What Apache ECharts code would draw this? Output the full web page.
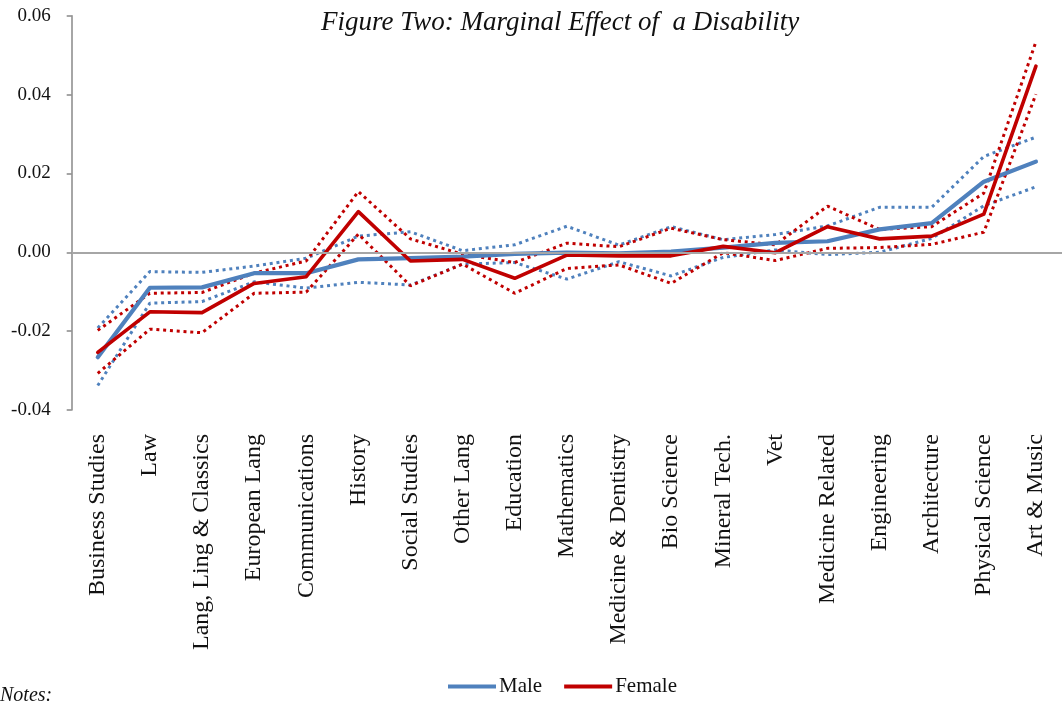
<!DOCTYPE html>
<html>
<head>
<meta charset="utf-8">
<script src="https://cdn.jsdelivr.net/npm/echarts@6/dist/echarts.min.js"></script>
<style>
  html, body { margin: 0; padding: 0; background: #fff; }
  #chart { width: 1062px; height: 701px; }
</style>
</head>
<body>
<div id="chart"></div>
<script>
var categories = ['Business Studies', 'Law', 'Lang, Ling & Classics', 'European Lang', 'Communications',
  'History', 'Social Studies', 'Other Lang', 'Education', 'Mathematics', 'Medicine & Dentistry',
  'Bio Science', 'Mineral Tech.', 'Vet', 'Medicine Related', 'Engineering', 'Architecture',
  'Physical Science', 'Art & Music']

var male = [-0.0266, -0.0090, -0.0089, -0.0053, -0.0053, -0.0018, -0.0015, -0.0011, -0.0004, -0.0001,
  -0.0003, 0.0002, 0.0012, 0.0024, 0.0028, 0.0058, 0.0074, 0.0179, 0.0230]
var maleUpper = [-0.0192, -0.0049, -0.0051, -0.0035, -0.0015, 0.0041, 0.0052, 0.0004, 0.0019, 0.0066,
  0.0018, 0.0065, 0.0032, 0.0045, 0.0067, 0.0114, 0.0114, 0.0243, 0.0292]
var maleLower = [-0.0338, -0.0129, -0.0125, -0.0075, -0.0091, -0.0076, -0.0083, -0.0030, -0.0026, -0.0068,
  -0.0024, -0.0060, -0.0013, 0.0006, -0.0006, 0.0000, 0.0035, 0.0118, 0.0166]

var female = [-0.0254, -0.0151, -0.0153, -0.0079, -0.0062, 0.0103, -0.0022, -0.0018, -0.0066, -0.0007,
  -0.0009, -0.0009, 0.0015, -0.0001, 0.0065, 0.0034, 0.0041, 0.0097, 0.0472]
var femaleUpper = [-0.0198, -0.0104, -0.0102, -0.0053, -0.0022, 0.0154, 0.0034, -0.0005, -0.0026, 0.0023,
  0.0014, 0.0061, 0.0032, 0.0019, 0.0117, 0.0058, 0.0065, 0.0150, 0.0534]
var femaleLower = [-0.0307, -0.0195, -0.0204, -0.0104, -0.0101, 0.0046, -0.0085, -0.0030, -0.0104, -0.0041,
  -0.0032, -0.0079, -0.0001, -0.0021, 0.0010, 0.0012, 0.0020, 0.0051, 0.0401]

var BLUE = '#4F81BD'
var RED = '#C00000'
var FONT = '"Liberation Serif", "DejaVu Serif", serif'

function solid(name, data, color, width) {
  return {
    name: name, type: 'line', data: data, symbol: 'none', z: 3,
    lineStyle: { color: color, width: width, type: 'solid', cap: 'round', join: 'round' },
    itemStyle: { color: color }
  }
}
function dotted(name, data, color) {
  return {
    name: name, type: 'line', data: data, symbol: 'none', z: 2,
    lineStyle: { color: color, width: 3, type: [3, 3.8], cap: 'butt' },
    itemStyle: { color: color }
  }
}

var chart = echarts.init(document.getElementById('chart'))

var zeroSeries = dotted('Male upper', maleUpper, BLUE)
zeroSeries.markLine = {
  silent: true,
  symbol: ['none', 'none'],
  label: { show: false },
  lineStyle: { color: '#a6a6a6', width: 2, type: 'solid' },
  data: [{ yAxis: 0 }]
}

var option = {
  animation: false,
  backgroundColor: '#fff',
  title: {
    text: 'Figure Two: Marginal Effect of  a Disability',
    left: 316,
    top: 4,
    textStyle: { fontFamily: FONT, fontStyle: 'italic', fontWeight: 'normal', fontSize: 27, color: '#111' }
  },
  legend: {
    data: ['Male', 'Female'],
    icon: 'rect',
    left: 443,
    top: 671,
    itemWidth: 48,
    itemHeight: 4,
    itemGap: 22,
    textStyle: { fontFamily: FONT, fontSize: 21, color: '#111', padding: [0, 0, 0, -2] }
  },
  graphic: [{
    type: 'text', left: 0, top: 686,
    style: { text: 'Notes:', font: 'italic 20px "Liberation Serif"', fill: '#111' }
  }],
  grid: { left: 71.7, top: 15.7, width: 1000, height: 394.3 },
  xAxis: {
    type: 'category',
    data: categories,
    boundaryGap: true,
    axisLine: { show: false, onZero: false },
    axisTick: { show: false },
    splitLine: { show: false },
    axisLabel: { rotate: 90, interval: 0, margin: 24, fontFamily: FONT, fontSize: 24, color: '#111' }
  },
  yAxis: {
    type: 'value',
    min: -0.04,
    max: 0.06,
    interval: 0.02,
    axisLine: { show: true, lineStyle: { color: '#888', width: 1.5 } },
    axisTick: { show: true, length: 5, lineStyle: { color: '#888', width: 1.5 } },
    splitLine: { show: false },
    axisLabel: {
      margin: 21, fontFamily: FONT, fontSize: 19, color: '#111',
      formatter: function (v) { return v.toFixed(2) }
    }
  },
  series: [
    zeroSeries,
    dotted('Male lower', maleLower, BLUE),
    solid('Male', male, BLUE, 4.2),
    dotted('Female upper', femaleUpper, RED),
    dotted('Female lower', femaleLower, RED),
    solid('Female', female, RED, 3.6)
  ]
}

chart.setOption(option)
</script>
</body>
</html>
